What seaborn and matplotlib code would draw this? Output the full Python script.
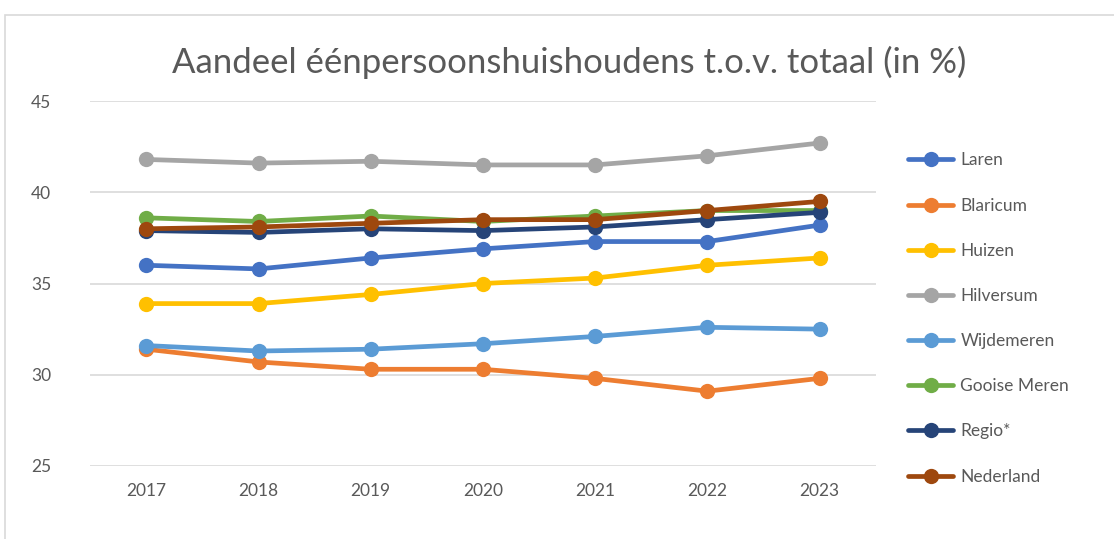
import matplotlib
matplotlib.use("Agg")
import matplotlib.pyplot as plt
import seaborn as sns
import pandas as pd
from matplotlib.patches import Rectangle

years = [2017, 2018, 2019, 2020, 2021, 2022, 2023]
laren = [36.0, 35.8, 36.4, 36.9, 37.3, 37.3, 38.2]
blaricum = [31.4, 30.7, 30.3, 30.3, 29.8, 29.1, 29.8]
huizen = [33.9, 33.9, 34.4, 35.0, 35.3, 36.0, 36.4]
hilversum = [41.8, 41.6, 41.7, 41.5, 41.5, 42.0, 42.7]
wijdemeren = [31.6, 31.3, 31.4, 31.7, 32.1, 32.6, 32.5]
gooise_meren = [38.6, 38.4, 38.7, 38.4, 38.7, 39.0, 39.0]
regio = [37.9, 37.8, 38.0, 37.9, 38.1, 38.5, 38.9]
nederland = [38.0, 38.1, 38.3, 38.5, 38.5, 39.0, 39.5]

series_names = ["Laren", "Blaricum", "Huizen", "Hilversum", "Wijdemeren",
                "Gooise Meren", "Regio*", "Nederland"]
series_values = [laren, blaricum, huizen, hilversum, wijdemeren,
                 gooise_meren, regio, nederland]
colors = ["#4472C4", "#ED7D31", "#FFC000", "#A5A5A5", "#5B9BD5",
          "#70AD47", "#264478", "#9E480E"]
title = "Aandeel éénpersoonshuishoudens t.o.v. totaal (in %)"

rows = []
for name, vals in zip(series_names, series_values):
    for y, v in zip(years, vals):
        rows.append({"jaar": y, "waarde": v, "reeks": name})
df = pd.DataFrame(rows)

sns.set_theme(style="white")
plt.rcParams["font.family"] = ["Lato", "DejaVu Sans"]

fig = plt.figure(figsize=(11.14, 5.39), dpi=100)
ax = fig.add_axes([0.081, 0.1355, 0.705, 0.677])

sns.lineplot(data=df, x="jaar", y="waarde", hue="reeks",
             hue_order=series_names, palette=dict(zip(series_names, colors)),
             marker="o", markersize=11, markeredgewidth=0, linewidth=3.4,
             ax=ax, legend=True)

ax.set_xlim(2016.5, 2023.5)
ax.set_ylim(25, 45)
ax.set_yticks([25, 30, 35, 40, 45])
ax.set_xticks(years)
ax.set_xticklabels([str(y) for y in years])
ax.yaxis.grid(True, color="#D9D9D9", linewidth=1.2)
ax.set_axisbelow(True)
for s in ax.spines.values():
    s.set_visible(False)
ax.tick_params(axis="both", length=0, labelsize=12.5, colors="#595959")
ax.tick_params(axis="y", pad=28)
ax.tick_params(axis="x", pad=12)
ax.set_xlabel("")
ax.set_ylabel("")

handles, labels = ax.get_legend_handles_labels()
ax.legend(handles, labels, loc="upper left", bbox_to_anchor=(0.809, 0.73),
          bbox_transform=fig.transFigure, frameon=False, fontsize=12.5,
          labelcolor="#595959", labelspacing=1.68, handlelength=2.6,
          handletextpad=0.4, borderaxespad=0)

fig.text(0.511, 0.885, title, ha="center", va="center", fontsize=25,
         color="#595959", fontweight="normal")

fig.patches.append(Rectangle((0.0045, -0.05), 1.1, 1.022, transform=fig.transFigure,
                             fill=False, edgecolor="#D9D9D9", linewidth=1.2))

fig.savefig("out.png", dpi=100, facecolor="white")
